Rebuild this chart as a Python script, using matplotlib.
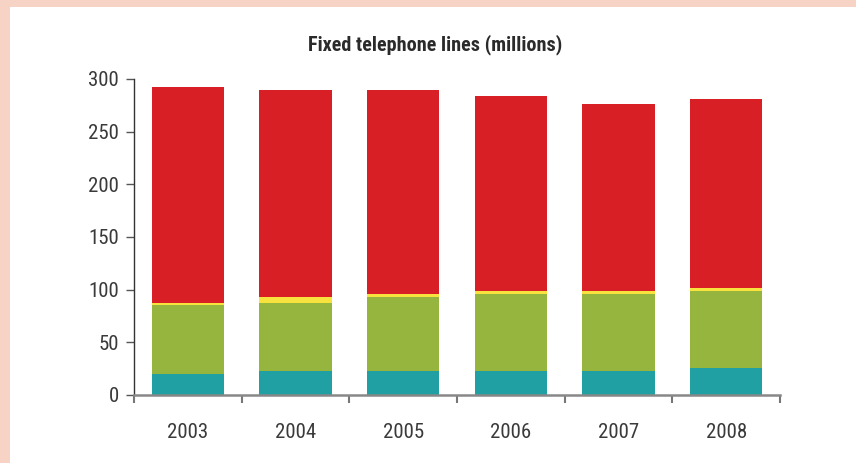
import matplotlib
matplotlib.use("Agg")
import matplotlib.pyplot as plt
import numpy as np
from matplotlib.patches import Rectangle

years = ["2003", "2004", "2005", "2006", "2007", "2008"]
teal = [20, 22.5, 22.5, 22.5, 22.5, 25.5]
green = [65, 65, 70.5, 73.5, 73.5, 73.5]
yellow = [2.5, 5.5, 3, 3, 3, 3]
red = [205, 196.5, 193.5, 185, 177, 179]

colors = ["#20a0a3", "#96b53f", "#f7e23e", "#d91f26"]
fam = ["Roboto Condensed", "DejaVu Sans"]
txt = "#3a3a3a"

fig = plt.figure(figsize=(8.56, 4.63), dpi=100)
fig.patch.set_facecolor("#f7d3c5")
fig.patches.append(Rectangle((10 / 856, 0), 1, 1 - 7 / 463, transform=fig.transFigure,
                             facecolor="white", edgecolor="none", zorder=-1))

ax = fig.add_axes([134 / 856, 1 - 395 / 463, (780 - 134) / 856, (395 - 79) / 463])
ax.set_facecolor("none")

x = np.arange(len(years))
bottom = np.zeros(len(years))
for vals, c in zip([teal, green, yellow, red], colors):
    ax.bar(x, vals, width=0.67, bottom=bottom, color=c, edgecolor="none", zorder=2)
    bottom += np.array(vals)

ax.set_xlim(-0.5, len(years) - 0.5)
ax.set_ylim(0, 300)
ax.set_yticks(np.arange(0, 301, 50))
ax.set_yticklabels([str(v) for v in range(0, 301, 50)], family=fam, fontsize=15, color=txt)

ax.set_xticks(np.arange(-0.5, len(years), 1.0))
ax.set_xticklabels([])
ax.set_xticks(x, minor=True)
ax.set_xticklabels(years, minor=True, family=fam, fontsize=15, color=txt)
ax.tick_params(axis="x", which="minor", length=0, pad=20)
ax.tick_params(axis="x", which="major", length=6, width=1.5, color="#777777", direction="out")
ax.tick_params(axis="y", length=6, width=1, color="#555555", pad=5)

for s in ["top", "right"]:
    ax.spines[s].set_visible(False)
ax.spines["left"].set_color("#333333")
ax.spines["left"].set_linewidth(1)
ax.spines["bottom"].set_color("#888888")
ax.spines["bottom"].set_linewidth(1.8)
ax.spines["bottom"].set_zorder(3)

fig.text(435 / 856, 1 - 45 / 463, "Fixed telephone lines (millions)", ha="center", va="center",
         family=fam, fontsize=14.5, fontweight="bold", color="#2a2a2a")

fig.savefig("out.png", dpi=100, facecolor=fig.get_facecolor())
